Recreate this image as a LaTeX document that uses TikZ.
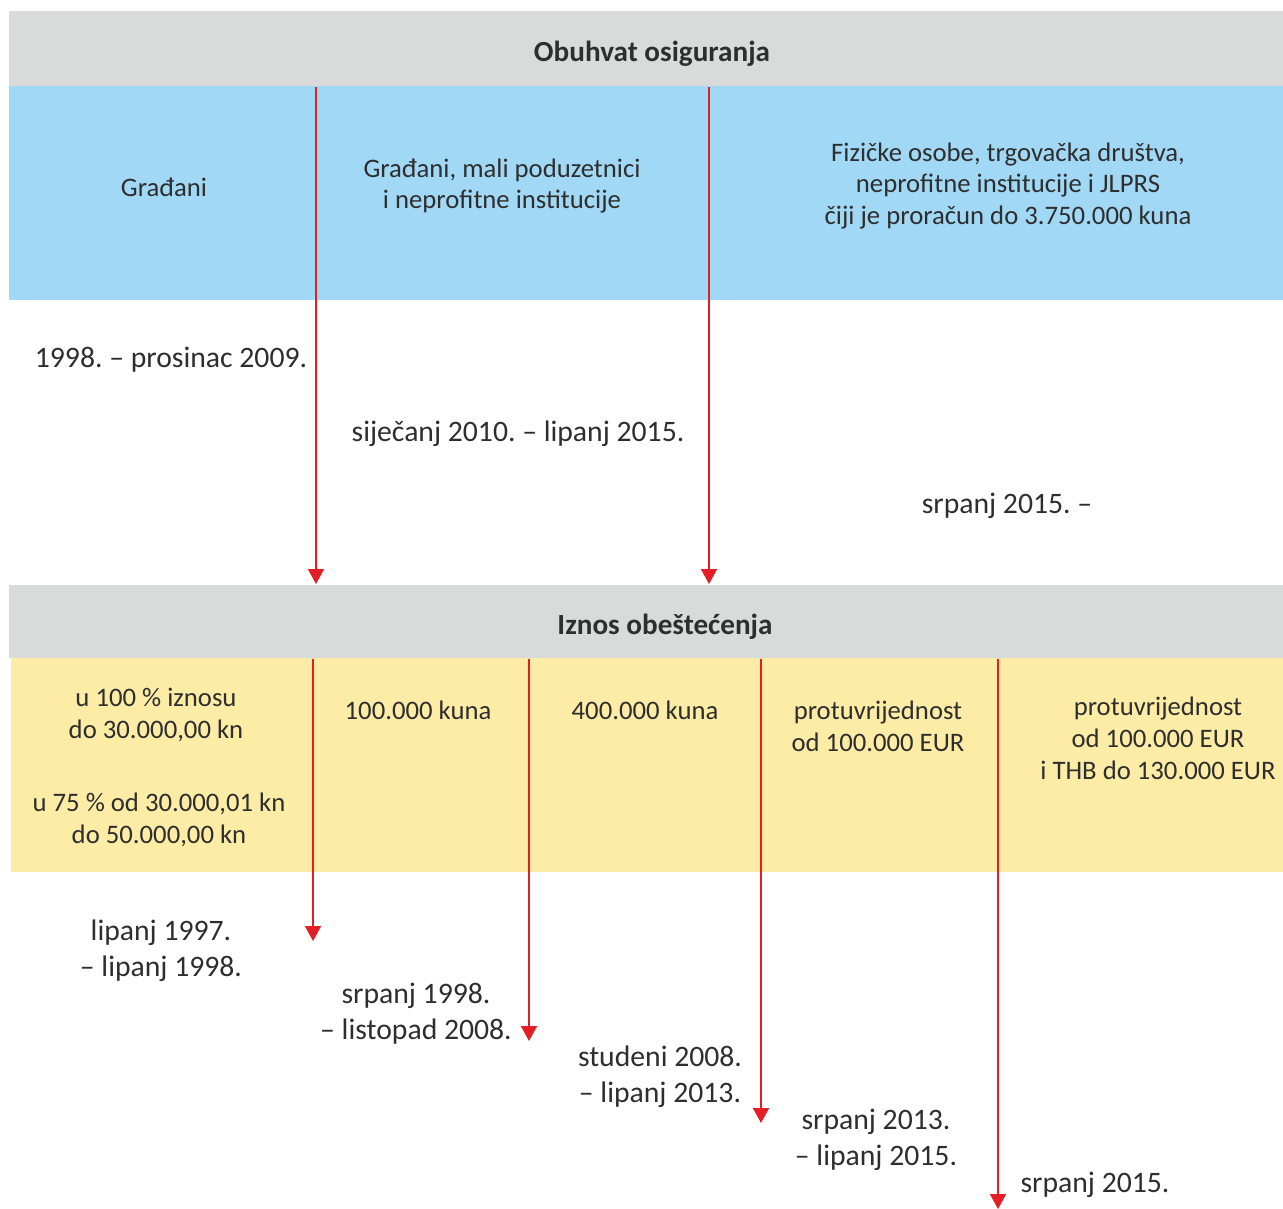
\documentclass[tikz,border=0pt]{standalone}
\usepackage{fontspec}
\setmainfont{Carlito}
\usetikzlibrary{arrows.meta}
\frenchspacing
\definecolor{bandgray}{HTML}{D9DADA}
\definecolor{bandblue}{HTML}{A1D8F5}
\definecolor{bandyellow}{HTML}{FDECA6}
\definecolor{arrowred}{HTML}{E31E24}
\definecolor{textgray}{HTML}{2E2E2E}
\begin{document}
\begin{tikzpicture}[x=0.02cm,y=-0.02cm,
	every node/.style={text=textgray, align=center, inner sep=0pt},
	heading/.style={font=\fontsize{16.6}{20}\selectfont\bfseries},
	cell/.style={font=\fontsize{15.2}{18.2}\selectfont},
	period/.style={font=\fontsize{16.9}{20.5}\selectfont},
	timeline/.style={arrowred, line width=1pt, -{Triangle[width=0.32cm,length=0.30cm]}}]
	\useasboundingbox (0,0) rectangle (1283,1208);
	
	% bands
	\fill [bandgray]   (9,11)   rectangle (1283,86);
	\fill [bandblue]   (9,86)   rectangle (1283,300);
	\fill [bandgray]   (9,585)  rectangle (1283,658);
	\fill [bandyellow] (11,658) rectangle (1283,872);
	
	% arrow ends
	\coordinate (ScopeA)  at (316,87);
	\coordinate (ScopeAe) at (316,584);
	\coordinate (ScopeB)  at (709,87);
	\coordinate (ScopeBe) at (709,584);
	\coordinate (PayA)  at (313,659);
	\coordinate (PayAe) at (313,941);
	\coordinate (PayB)  at (529,659);
	\coordinate (PayBe) at (529,1041);
	\coordinate (PayC)  at (761,659);
	\coordinate (PayCe) at (761,1123);
	\coordinate (PayD)  at (998,659);
	\coordinate (PayDe) at (998,1209);
	
	\draw [timeline] (ScopeA) -- (ScopeAe);
	\draw [timeline] (ScopeB) -- (ScopeBe);
	\draw [timeline] (PayA) -- (PayAe);
	\draw [timeline] (PayB) -- (PayBe);
	\draw [timeline] (PayC) -- (PayCe);
	\draw [timeline] (PayD) -- (PayDe);
	
	% Obuhvat osiguranja
	\node [heading] (ScopeTitle) at (652,54) {Obuhvat osiguranja};
	\node [cell] (ScopeOne)   at (164,187) {Građani};
	\node [cell] (ScopeTwo)   at (502,186) {Građani, mali poduzetnici\\i neprofitne institucije};
	\node [cell] (ScopeThree) at (1008,186) {Fizičke osobe, trgovačka društva,\\neprofitne institucije i JLPRS\\čiji je proračun do 3.750.000 kuna};
	
	\node [period] (ScopeDateA) at (171,360) {1998. – prosinac 2009.};
	\node [period] (ScopeDateB) at (518,434) {siječanj 2010. – lipanj 2015.};
	\node [period] (ScopeDateC) at (1007,506) {srpanj 2015. –};
	
	% Iznos obeštećenja
	\node [heading] (PayTitle) at (665,627) {Iznos obeštećenja};
	\node [cell] (PayOneA) at (156,715) {u 100 \% iznosu\\do 30.000,00 kn};
	\node [cell] (PayOneB) at (159,820) {u 75 \% od 30.000,01 kn\\do 50.000,00 kn};
	\node [cell] (PayTwo)   at (418,710) {100.000 kuna};
	\node [cell] (PayThree) at (645,710) {400.000 kuna};
	\node [cell] (PayFour)  at (878,726) {protuvrijednost\\od 100.000 EUR};
	\node [cell] (PayFive)  at (1158,738) {protuvrijednost\\od 100.000 EUR\\i THB do 130.000 EUR};
	
	\node [period] (PayDateA) at (161,951) {lipanj 1997.\\– lipanj 1998.};
	\node [period] (PayDateB) at (416,1014) {srpanj 1998.\\– listopad 2008.};
	\node [period] (PayDateC) at (660,1077) {studeni 2008.\\– lipanj 2013.};
	\node [period] (PayDateD) at (876,1140) {srpanj 2013.\\– lipanj 2015.};
	\node [period] (PayDateE) at (1095,1185) {srpanj 2015.};
	
\end{tikzpicture}
\end{document}
